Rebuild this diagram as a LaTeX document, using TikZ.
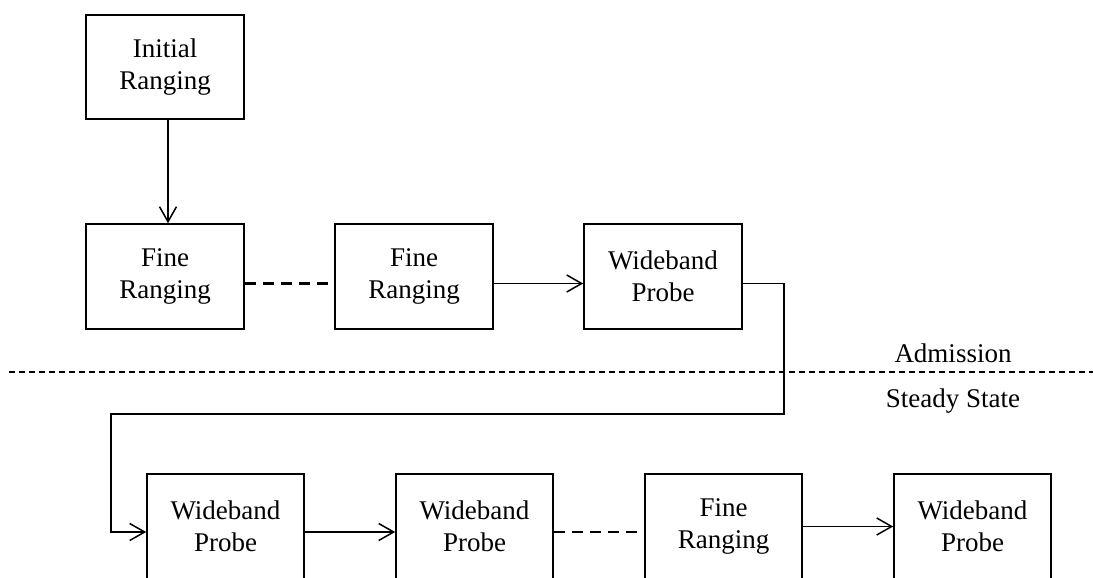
\documentclass[tikz,border=0pt]{standalone}
\usepackage{fontspec}
\setmainfont{Liberation Serif}
\usetikzlibrary{arrows.meta,calc}

\tikzset{
  stagebox/.style={draw, line width=1.6pt, minimum width=158pt, minimum height=105pt,
    inner sep=0pt, align=center, font=\fontsize{27}{31.5}\selectfont},
  flow/.style={line width=1.5pt, -{Straight Barb[length=15pt,width=17pt,line width=1.5pt]}},
  optional/.style={line width=2.4pt, dash pattern=on 11pt off 7pt},
  phaseline/.style={line width=2.4pt, dash pattern=on 6pt off 4pt},
  phaselabel/.style={anchor=base, inner sep=0pt, font=\fontsize{27}{31.5}\selectfont}
}

\begin{document}
\begin{tikzpicture}[x=1pt, y=-1pt]
  \useasboundingbox (0,0) rectangle (1093,578);
  \clip (0,0) rectangle (1093,578);

  % admission phase
  \node[stagebox, minimum height=104pt] (ir)  at (165,67)    {Initial\\Ranging};
  \node[stagebox] (fr1) at (165,276.5) {Fine\\Ranging};
  \node[stagebox] (fr2) at (414,276.5) {Fine\\Ranging};
  \node[stagebox] (wp1) at (663,276.5) {Wideband\\Probe};

  % steady-state phase
  \node[stagebox, minimum width=157pt] (b1) at (225.5,526.5) {Wideband\\Probe};
  \node[stagebox, minimum width=157pt] (b2) at (474.5,526.5) {Wideband\\Probe};
  \node[stagebox, minimum width=157pt] (b3) at (723.5,526.5) {Fine\\Ranging};
  \node[stagebox, minimum width=157pt] (b4) at (972.5,526.5) {Wideband\\Probe};

  % phase boundary
  \coordinate (sepL) at (9,372);
  \coordinate (sepR) at (1093,372);
  \draw[phaseline] (sepL) -- (sepR);
  \node[phaselabel] (adm) at (953,362) {Admission};
  \node[phaselabel] (ss)  at (953,407) {Steady State};

  % connectors, admission
  \draw[flow] ([xshift=3pt]ir.south) -- ([xshift=3pt]fr1.north);
  \draw[optional] ([yshift=-7pt]fr1.east) -- ([yshift=-7pt]fr2.west);
  \draw[flow] ([yshift=-7pt]fr2.east) -- ([yshift=-7pt]wp1.west);

  % hand-over into steady state
  \coordinate (turnA) at (784,414);
  \coordinate (turnB) at (111,414);
  \draw[flow] ([yshift=-7pt]wp1.east) -| (turnA) -- (turnB) |- ([yshift=-5.5pt]b1.west);

  % connectors, steady state
  \draw[flow] ([yshift=-5.5pt]b1.east) -- ([yshift=-5.5pt]b2.west);
  \draw[optional] ([yshift=-5.5pt]b2.east) -- ([yshift=-5.5pt]b3.west);
  \draw[flow] (b3.east) -- (b4.west);
\end{tikzpicture}
\end{document}
